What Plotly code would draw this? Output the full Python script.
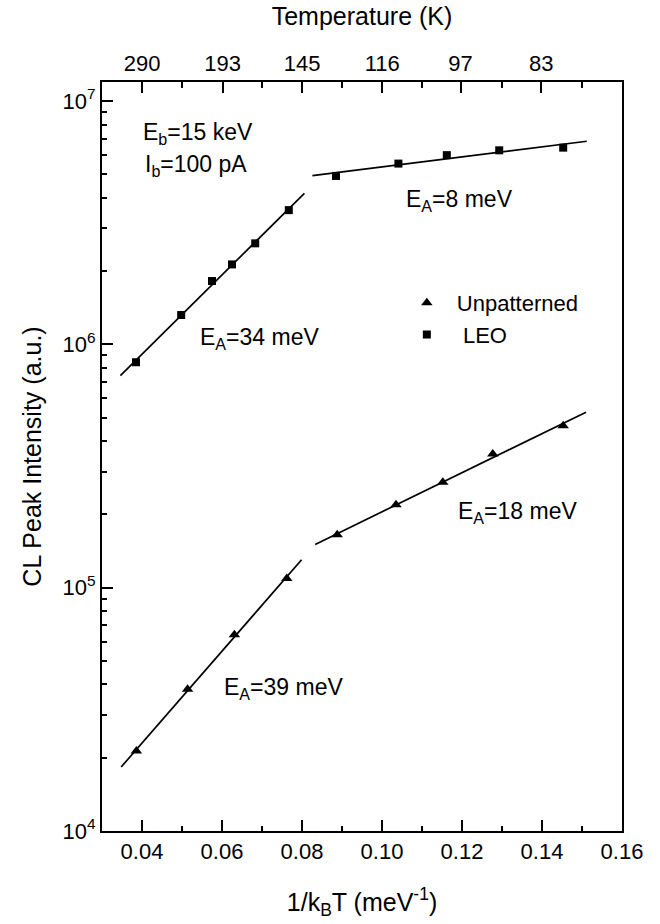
import numpy as np
import plotly.graph_objects as go

# 1/kT in meV^-1 and CL peak intensity (a.u.)
leo_x = [0.0385, 0.0498, 0.0575, 0.0625, 0.0683, 0.0767, 0.0885, 0.1041, 0.1162, 0.1293, 0.1453]
leo_y = [8.44e5, 1.32e6, 1.82e6, 2.13e6, 2.60e6, 3.56e6, 4.92e6, 5.53e6, 5.99e6, 6.27e6, 6.43e6]
unp_x = [0.0386, 0.0514, 0.0631, 0.0762, 0.0888, 0.1035, 0.1152, 0.1277, 0.1453]
unp_y = [2.13e4, 3.82e4, 6.40e4, 1.09e5, 1.65e5, 2.19e5, 2.71e5, 3.54e5, 4.63e5]

# Arrhenius fit regimes: (series, first index, last index, x span of the drawn fit)
fit_segments = [
    ("leo", 0, 6, (0.0346, 0.0806)),
    ("leo", 6, 11, (0.0826, 0.1512)),
    ("unp", 0, 4, (0.0348, 0.0799)),
    ("unp", 4, 9, (0.0833, 0.1510)),
]
activation_labels = ["E<sub>A</sub>=34 meV", "E<sub>A</sub>=8 meV",
                     "E<sub>A</sub>=39 meV", "E<sub>A</sub>=18 meV"]

# Temperature axis labels (K)
temps_K = [290, 193, 145, 116, 97, 83]
K_B = 0.08617  # meV/K

# intensity decades shown on the left axis
decades = [4, 5, 6, 7]

FONT = "Liberation Sans, Arial, Helvetica, sans-serif"
series = {"leo": (leo_x, leo_y), "unp": (unp_x, unp_y)}

fig = go.Figure()

for name, i0, i1, (xa, xb) in fit_segments:
    xs = np.array(series[name][0][i0:i1])
    ys = np.log10(np.array(series[name][1][i0:i1]))
    slope, icpt = np.polyfit(xs, ys, 1)
    xl = np.array([xa, xb])
    fig.add_trace(go.Scatter(x=xl, y=10 ** (slope * xl + icpt), mode="lines",
                             line=dict(color="black", width=1.7),
                             showlegend=False, hoverinfo="skip"))

fig.add_trace(go.Scatter(x=unp_x, y=unp_y, mode="markers", name="Unpatterned",
                         marker=dict(symbol="triangle-up", size=10, color="black")))
fig.add_trace(go.Scatter(x=leo_x, y=leo_y, mode="markers", name=" LEO",
                         marker=dict(symbol="square", size=8, color="black")))

# invisible trace that carries the top temperature axis
fig.add_trace(go.Scatter(x=[0.03, 0.16], y=[1e4, 1e4], xaxis="x2", mode="markers",
                         marker=dict(opacity=0), showlegend=False, hoverinfo="skip"))

text_font = dict(family=FONT, size=23, color="black")
notes = [
    ("E<sub>b</sub>=15 keV", 0.0397, 6.865),
    ("I<sub>b</sub>=100 pA", 0.0402, 6.733),
    (activation_labels[0], 0.0540, 6.023),
    (activation_labels[1], 0.1055, 6.589),
    (activation_labels[2], 0.0600, 4.587),
    (activation_labels[3], 0.1185, 5.307),
]
for txt, ax_x, ax_y in notes:
    fig.add_annotation(text=txt, x=ax_x, y=ax_y, xref="x", yref="y",
                       xanchor="left", yanchor="middle", showarrow=False,
                       font=text_font)

axis_common = dict(showline=True, linecolor="black", linewidth=2, showgrid=False,
                   zeroline=False, ticks="inside", tickcolor="black", tickwidth=1.5,
                   tickfont=dict(family=FONT, size=22, color="black"))
title_font = dict(family=FONT, size=25, color="black")

fig.update_layout(
    width=660, height=924,
    margin=dict(l=102, r=38, t=82, b=90),
    paper_bgcolor="white", plot_bgcolor="white",
    font=dict(family=FONT, size=22, color="black"),
    xaxis=dict(range=[0.03, 0.16], tick0=0.04, dtick=0.02, tickformat=".2f",
               ticklen=11, mirror=False,
               minor=dict(dtick=0.01, tick0=0.03, ticks="inside", ticklen=5,
                          tickcolor="black", showgrid=False),
               title=dict(text="1/k<sub>B</sub>T (meV<sup>-1</sup>)",
                          font=title_font, standoff=30),
               **axis_common),
    xaxis2=dict(range=[0.03, 0.16], overlaying="x", side="top", anchor="y",
                tickmode="array",
                tickvals=[1.0 / (K_B * t) for t in temps_K],
                ticktext=[str(t) for t in temps_K], ticklen=11,
                minor=dict(tickmode="array",
                           tickvals=[0.05, 0.07, 0.09, 0.11, 0.13, 0.15],
                           ticks="inside", ticklen=6, tickcolor="black",
                           showgrid=False),
                title=dict(text="Temperature (K)", font=title_font, standoff=18),
                **axis_common),
    yaxis=dict(type="log", range=[4, 7.078], tickmode="array",
               tickvals=[10 ** d for d in decades],
               ticktext=[f"10<sup>{d}</sup>" for d in decades],
               ticklen=11, mirror=True,
               minor=dict(dtick="D1", ticks="inside", ticklen=5, tickcolor="black",
                          showgrid=False),
               title=dict(text="CL Peak Intensity (a.u.)", font=title_font,
                          standoff=14),
               **axis_common),
    legend=dict(x=0.567, y=0.733, xanchor="left", yanchor="top",
                bgcolor="rgba(0,0,0,0)", itemwidth=50,
                font=dict(family=FONT, size=22, color="black")),
    showlegend=True,
)

fig.write_html("out.html")
